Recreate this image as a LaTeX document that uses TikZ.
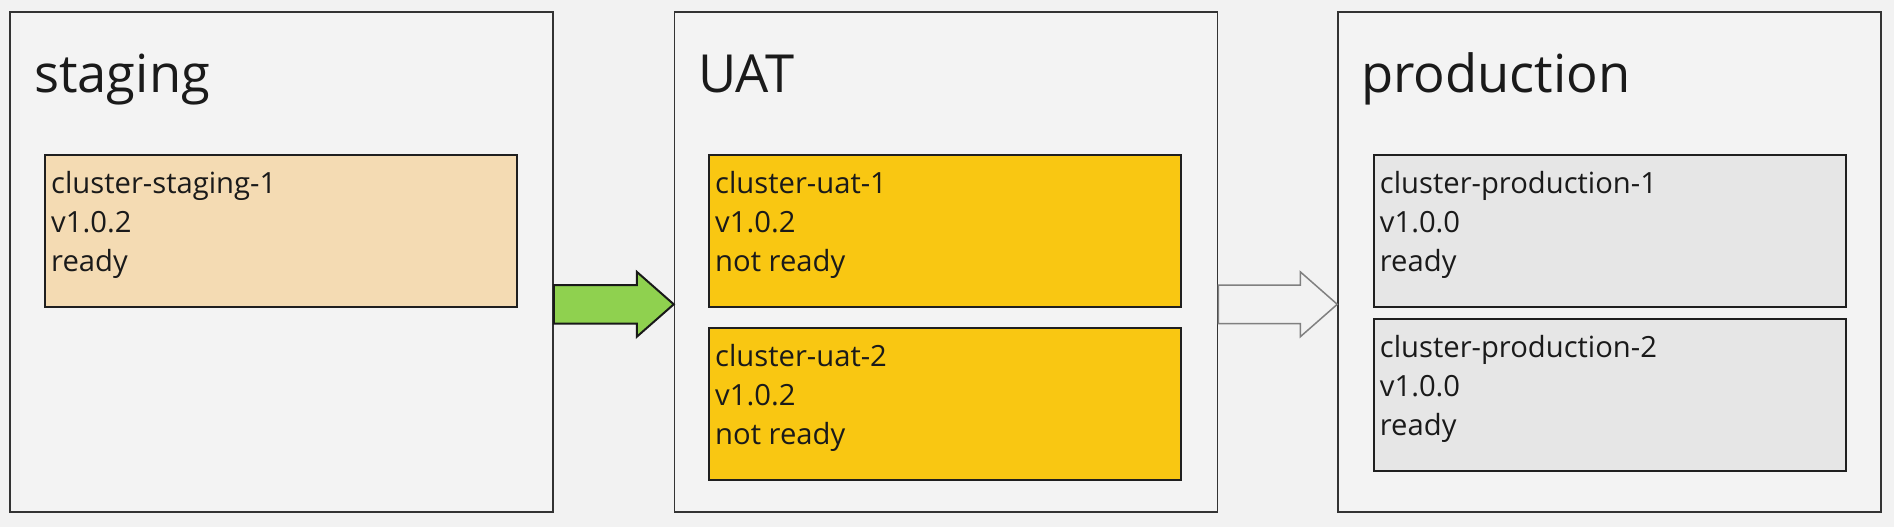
\documentclass[tikz,border=0pt]{standalone}
\usepackage{fontspec}
\setmainfont{Open Sans}
\usepackage{tikz}
\usepackage{xcolor}
\usetikzlibrary{
    calc,
    positioning
}
\definecolor{bgcol}{HTML}{F2F2F2}
\definecolor{panelcol}{HTML}{F3F3F3}
\definecolor{stgcol}{HTML}{F4DBB3}
\definecolor{uatcol}{HTML}{F9C712}
\definecolor{prdcol}{HTML}{E6E6E6}
\definecolor{grncol}{HTML}{8FD14F}
\definecolor{txtcol}{HTML}{1A1A1A}
\tikzset{envbox/.style={draw=black!80, line width=1.5pt, fill=panelcol, minimum width=543pt, minimum height=500pt, inner sep=0pt}}
\tikzset{clbox/.style={draw=black!88, line width=2pt, minimum width=472pt, minimum height=152pt, inner sep=0pt}}
\tikzset{envttl/.style={anchor=base west, inner sep=0pt, text=txtcol, font=\fontsize{52.5}{63}\selectfont}}
\tikzset{cltxt/.style={anchor=base west, inner sep=0pt, align=left, text=txtcol, font=\fontsize{29.2}{38.7}\selectfont}}

\begin{document}
\begin{tikzpicture}[x=1pt, y=-1pt]
                        \fill[bgcol] (0, 0) rectangle (1894, 527);
                        \useasboundingbox (0, 0) rectangle (1894, 527);

                        \node[envbox] (staging) at (281.5, 262) {};
                        \node[envbox] (uat) at (946, 262) {};
                        \node[envbox] (prod) at (1609.5, 262) {};

                        \node[envttl] (tstg) at (34, 92.7) {staging};
                        \node[envttl] (tuat) at (698, 92.7) {UAT};
                        \node[envttl] (tprd) at (1361, 92.7) {production};

                        \node[clbox, fill=stgcol] (stg1) at (281, 231) {};
                        \node[clbox, fill=uatcol] (uat1) at (945, 231) {};
                        \node[clbox, fill=uatcol] (uat2) at (945, 404) {};
                        \node[clbox, fill=prdcol] (prd1) at (1609.7, 231) {};
                        \node[clbox, fill=prdcol] (prd2) at (1609.7, 395) {};

                        \node[cltxt] (ts1) at (51, 271.3) {cluster-staging-1\\v1.0.2\\ready};
                        \node[cltxt] (tu1) at (715, 271.3) {cluster-uat-1\\v1.0.2\\not ready};
                        \node[cltxt] (tu2) at (715, 444.3) {cluster-uat-2\\v1.0.2\\not ready};
                        \node[cltxt] (tp1) at (1379.7, 271.3) {cluster-production-1\\v1.0.0\\ready};
                        \node[cltxt] (tp2) at (1379.7, 435.3) {cluster-production-2\\v1.0.0\\ready};

                        % block arrows between the panels
                        \path (staging.east) ++(0, 42.3) coordinate (a1s);
                        \path (uat.west) ++(0, 42.3) coordinate (a1e);
                        \path (uat.east) ++(0, 42.3) coordinate (a2s);
                        \path (prod.west) ++(0, 42.3) coordinate (a2e);

                        \draw[fill=grncol, draw=black!90, line width=2pt, line join=miter]
                        ($(a1s)+(0, -19.3)$) -- ($(a1e)+(-37, -19.3)$) -- ($(a1e)+(-37, -32.5)$) -- (a1e)
                        -- ($(a1e)+(-37, 32.5)$) -- ($(a1e)+(-37, 19.3)$) -- ($(a1s)+(0, 19.3)$) -- cycle;

                        \draw[fill=bgcol, draw=black!50, line width=1.5pt, line join=miter]
                        ($(a2s)+(0, -19.3)$) -- ($(a2e)+(-37, -19.3)$) -- ($(a2e)+(-37, -32.5)$) -- (a2e)
                        -- ($(a2e)+(-37, 32.5)$) -- ($(a2e)+(-37, 19.3)$) -- ($(a2s)+(0, 19.3)$) -- cycle;
                    \end{tikzpicture}
\end{document}
